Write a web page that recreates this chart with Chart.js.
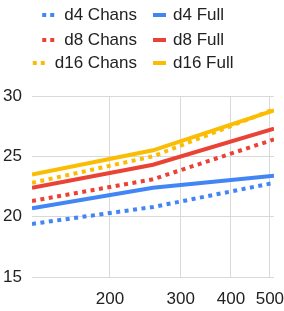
<!DOCTYPE html>
<html lang="en">
<head>
<meta charset="UTF-8">
<title>Chans vs Full</title>
<script src="https://cdn.jsdelivr.net/npm/chart.js"></script>
<style>
  body { margin: 0; background: #fff; }
  #wrap { width: 284px; height: 311px; }
</style>
</head>
<body>
<div id="wrap"><canvas id="chart" width="284" height="311"></canvas></div>
<script>
// datos
var sizes = [128, 256, 512];
var xTicks = [200, 300, 400, 500];
var d4Chans  = [19.4, 20.8, 22.8];
var d4Full   = [20.7, 22.4, 23.4];
var d8Chans  = [21.3, 23.1, 26.4];
var d8Full   = [22.4, 24.3, 27.3];
var d16Chans = [22.8, 25.0, 28.9];
var d16Full  = [23.5, 25.5, 28.8];

var BLUE = '#4285f4', RED = '#ea4335', YELLOW = '#fbbc04';
var FONT = '"Liberation Sans", Arial, sans-serif';

function pts(vals) {
    return vals.map(function(v, i) { return { x: sizes[i], y: v }; });
}

function ds(label, vals, color, dotted) {
    return {
        label: label,
        data: pts(vals),
        borderColor: color,
        backgroundColor: color,
        borderWidth: 4,
        borderDash: dotted ? [4, 4.5] : [],
        borderCapStyle: 'butt',
        pointRadius: 0,
        tension: 0,
        fill: false
    };
}

// leyenda dibujada a mano (dos columnas como en el original)
var legendPlugin = {
    id: 'twoColLegend',
    afterDraw: function(chart) {
        var ctx = chart.ctx;
        var rows = [15, 40, 63];
        ctx.save();
        ctx.font = '17px ' + FONT;
        ctx.textBaseline = 'middle';
        ctx.textAlign = 'left';
        chart.data.datasets.forEach(function(d, i) {
            var y = rows[Math.floor(i / 2)];
            ctx.fillStyle = d.borderColor;
            if (i % 2 === 0) {
                var tx = 137 - ctx.measureText(d.label).width;
                ctx.fillRect(tx - 22, y - 2, 4, 4);
                ctx.fillRect(tx - 14, y - 2, 4, 4);
                ctx.fillStyle = '#222';
                ctx.fillText(d.label, tx, y);
            } else {
                ctx.fillRect(153, y - 2, 13, 4);
                ctx.fillStyle = '#222';
                ctx.fillText(d.label, 173, y);
            }
        });
        ctx.restore();
    }
};

new Chart(document.getElementById('chart'), {
    type: 'line',
    data: {
        datasets: [
            ds('d4 Chans', d4Chans, BLUE, true),
            ds('d4 Full', d4Full, BLUE, false),
            ds('d8 Chans', d8Chans, RED, true),
            ds('d8 Full', d8Full, RED, false),
            ds('d16 Chans', d16Chans, YELLOW, true),
            ds('d16 Full', d16Full, YELLOW, false)
        ]
    },
    options: {
        responsive: false,
        animation: false,
        layout: { padding: { top: 96, right: 10, left: 0, bottom: 0 } },
        plugins: { legend: { display: false }, tooltip: { enabled: false } },
        scales: {
            x: {
                type: 'logarithmic',
                min: 128,
                max: 512,
                afterBuildTicks: function(axis) {
                    axis.ticks = xTicks.map(function(v) { return { value: v }; });
                },
                afterFit: function(axis) {
                    axis.height = 34;
                    axis.paddingLeft = 0;
                    axis.paddingRight = 0;
                },
                ticks: {
                    autoSkip: false,
                    maxRotation: 0,
                    padding: 12,
                    color: '#222',
                    font: { family: FONT, size: 17 },
                    callback: function(v) { return String(v); }
                },
                grid: { color: '#d9d9d9', lineWidth: 1, drawTicks: false },
                border: { display: false }
            },
            y: {
                min: 15,
                max: 30,
                afterFit: function(axis) {
                    axis.width = 32;
                    axis.paddingTop = 0;
                    axis.paddingBottom = 0;
                },
                ticks: {
                    stepSize: 5,
                    padding: 10,
                    color: '#222',
                    font: { family: FONT, size: 17 }
                },
                grid: { color: '#d9d9d9', lineWidth: 1, drawTicks: false },
                border: { display: false }
            }
        }
    },
    plugins: [legendPlugin]
});
</script>
</body>
</html>
